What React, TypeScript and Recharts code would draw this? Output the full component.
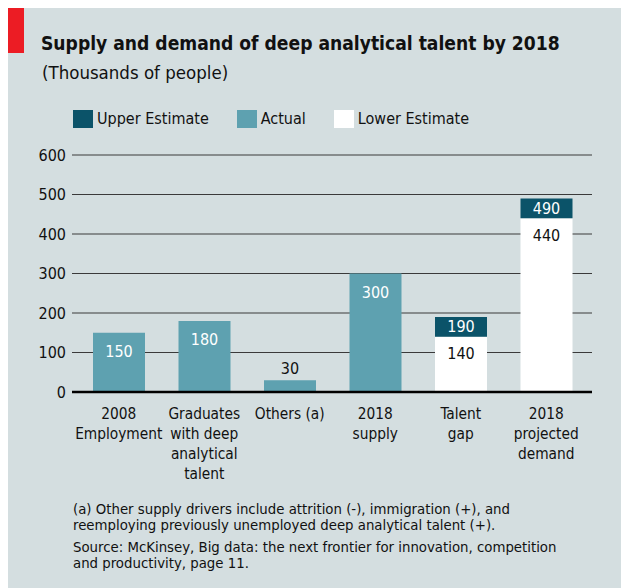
import { BarChart, Bar, XAxis, YAxis, CartesianGrid, ReferenceLine, LabelList } from 'recharts'

const categories = [
  ['2008', 'Employment'],
  ['Graduates', 'with deep', 'analytical', 'talent'],
  ['Others (a)'],
  ['2018', 'supply'],
  ['Talent', 'gap'],
  ['2018', 'projected', 'demand'],
]
const actual = [150, 180, 30, 300, null, null]
const lowerEstimate = [null, null, null, null, 140, 440]
const upperEstimate = [null, null, null, null, 190, 490]
const yTicks = [0, 100, 200, 300, 400, 500, 600]

const legendItems = [
  { label: 'Upper Estimate', color: '#0b5369' },
  { label: 'Actual', color: '#5ea1b0' },
  { label: 'Lower Estimate', color: '#ffffff' },
]

const FONT = "'DejaVu Sans Condensed', 'DejaVu Sans', sans-serif"
const BG = '#d4dee0'

const data = categories.map((lines, i) => ({
  name: lines.join(' '),
  actual: actual[i],
  lower: lowerEstimate[i],
  upperGap: upperEstimate[i] != null && lowerEstimate[i] != null ? (upperEstimate[i] as number) - (lowerEstimate[i] as number) : null,
  upperTotal: upperEstimate[i],
}))

function CategoryTick({ x, y, index }: any) {
  const lines = categories[index] ?? []
  return (
    <text x={x} y={y} textAnchor="middle" fontFamily={FONT} fontSize={15.3} fill="#111">
      {lines.map((l, i) => (
        <tspan key={i} x={x} dy={i === 0 ? 19 : 20}>{l}</tspan>
      ))}
    </text>
  )
}

function ActualLabel({ x, y, width, value }: any) {
  if (value == null) return null
  const inside = value >= 100
  return (
    <text x={x + width / 2} y={inside ? y + 19 : y - 12} textAnchor="middle" dominantBaseline="central"
      fontFamily={FONT} fontSize={16} fill={inside ? '#fff' : '#111'}>{value}</text>
  )
}

function LowerLabel({ x, y, width, value }: any) {
  if (value == null) return null
  return (
    <text x={x + width / 2} y={y + 17} textAnchor="middle" dominantBaseline="central"
      fontFamily={FONT} fontSize={16} fill="#111">{value}</text>
  )
}

function UpperLabel({ x, y, width, height, value }: any) {
  if (value == null) return null
  return (
    <text x={x + width / 2} y={y + height / 2} textAnchor="middle" dominantBaseline="central"
      fontFamily={FONT} fontSize={16} fill="#fff">{value}</text>
  )
}

export default function App() {
  return (
    <div style={{ position: 'absolute', left: 0, top: 0, width: 621, height: 588, background: '#fff', overflow: 'hidden' }}>
      <div style={{ position: 'absolute', left: 8, top: 8, width: 613, height: 580, background: BG }} />
      <div style={{ position: 'absolute', left: 8, top: 8, width: 16, height: 45, background: '#ec1c24' }} />
      <div style={{ position: 'absolute', left: 41, top: 32, fontFamily: FONT, fontWeight: 700, fontSize: 19.1, lineHeight: '24px', color: '#111', whiteSpace: 'nowrap' }}>
        Supply and demand of deep analytical talent by 2018
      </div>
      <div style={{ position: 'absolute', left: 42, top: 61, fontFamily: FONT, fontSize: 18.5, lineHeight: '24px', color: '#111', whiteSpace: 'nowrap' }}>
        (Thousands of people)
      </div>
      {/* legend */}
      <div style={{ position: 'absolute', left: 73, top: 110, display: 'flex', alignItems: 'center', fontFamily: FONT, fontSize: 16, lineHeight: '18px', color: '#111' }}>
        {legendItems.map((it) => (
          <div key={it.label} style={{ display: 'flex', alignItems: 'center', marginRight: 28 }}>
            <span style={{ display: 'inline-block', width: 20, height: 18, background: it.color, marginRight: 4 }} />
            <span>{it.label}</span>
          </div>
        ))}
      </div>
      <div style={{ position: 'absolute', left: 0, top: 0 }}>
        <BarChart width={621} height={588} data={data} margin={{ top: 155, right: 29, bottom: 96, left: 32 }}>
          <CartesianGrid vertical={false} stroke="#3a3a3a" strokeWidth={1} />
          <XAxis dataKey="name" axisLine={false} tickLine={false} interval={0} height={100}
            padding={{ left: 4, right: 3 }} tick={<CategoryTick />} />
          <YAxis domain={[0, 600]} ticks={yTicks} width={40} axisLine={false} tickLine={false} tickSize={0} tickMargin={6}
            tick={{ fontFamily: FONT, fontSize: 16, fill: '#111' }} />
          <Bar dataKey="actual" stackId="s" fill="#5ea1b0" barSize={52} isAnimationActive={false}>
            <LabelList dataKey="actual" content={<ActualLabel />} />
          </Bar>
          <Bar dataKey="lower" stackId="s" fill="#ffffff" barSize={52} isAnimationActive={false}>
            <LabelList dataKey="lower" content={<LowerLabel />} />
          </Bar>
          <Bar dataKey="upperGap" stackId="s" fill="#0b5369" barSize={52} isAnimationActive={false}>
            <LabelList dataKey="upperTotal" content={<UpperLabel />} />
          </Bar>
          <ReferenceLine y={0} stroke="#000" strokeWidth={2.5} />
        </BarChart>
      </div>
      <div style={{ position: 'absolute', left: 73, top: 501, fontFamily: FONT, fontSize: 14.8, lineHeight: '16px', color: '#111', whiteSpace: 'nowrap' }}>
        <div>(a) Other supply drivers include attrition (-), immigration (+), and</div>
        <div>reemploying previously unemployed deep analytical talent (+).</div>
        <div style={{ marginTop: 6 }}>Source: McKinsey, Big data: the next frontier for innovation, competition</div>
        <div>and productivity, page 11.</div>
      </div>
    </div>
  )
}
